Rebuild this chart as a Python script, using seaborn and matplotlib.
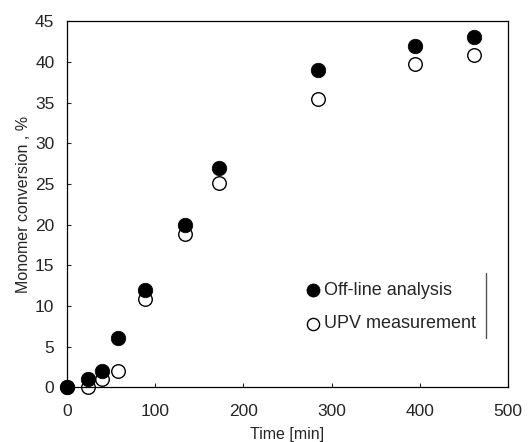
import seaborn as sns
import pandas as pd
import matplotlib.pyplot as plt

# Monomer conversion vs time
time_offline = [0, 24, 40, 58, 89, 134, 172, 284, 394, 461]
conv_offline = [0, 1, 2, 6, 12, 20, 27, 39, 42, 43]

time_upv = [0, 24, 40, 58, 89, 134, 172, 284, 394, 461]
conv_upv = [0, 0, 1, 2, 10.8, 18.8, 25.1, 35.4, 39.7, 40.9]

offline = pd.DataFrame({'Time': time_offline, 'Conversion': conv_offline})
upv = pd.DataFrame({'Time': time_upv, 'Conversion': conv_upv})

sns.set_style("white")
plt.rcParams['font.family'] = ['Liberation Sans', 'DejaVu Sans']

fig = plt.figure(figsize=(5.31, 4.42), dpi=100)
ax = fig.add_axes([0.126, 0.124, 0.831, 0.828])

sns.scatterplot(data=upv, x='Time', y='Conversion', ax=ax, s=95,
                facecolor='white', edgecolor='black', linewidth=1.0,
                label='UPV measurement', zorder=2, clip_on=False)
sns.scatterplot(data=offline, x='Time', y='Conversion', ax=ax, s=110,
                color='black', edgecolor='black', linewidth=0.5,
                label='Off-line analysis', zorder=3, clip_on=False)

ax.set_xlim(0, 500)
ax.set_ylim(0, 45)
ax.set_xticks(range(0, 501, 100))
ax.set_yticks(range(0, 46, 5))
ax.tick_params(direction='in', length=3, labelsize=12.5, width=0.8,
               bottom=True, left=True, top=False, right=False)
ax.tick_params(axis='x', pad=12)
ax.tick_params(axis='y', pad=9)
ax.set_xlabel('Time [min]', fontsize=11.5, labelpad=6)
ax.set_ylabel('Monomer conversion , %', fontsize=11.5, labelpad=3)
for sp in ax.spines.values():
    sp.set_color('black')
    sp.set_linewidth(0.9)

handles, labels = ax.get_legend_handles_labels()
leg = ax.legend(handles[::-1], labels[::-1], loc='lower right',
                bbox_to_anchor=(0.955, 0.115), frameon=False, fontsize=13,
                handletextpad=0.0, markerscale=0.9, labelspacing=0.9,
                borderpad=0.2, handlelength=1.2)
ax.axvline(475, ymin=0.134, ymax=0.311, color='#555555', linewidth=1.0)

fig.savefig('out.png', dpi=100)
